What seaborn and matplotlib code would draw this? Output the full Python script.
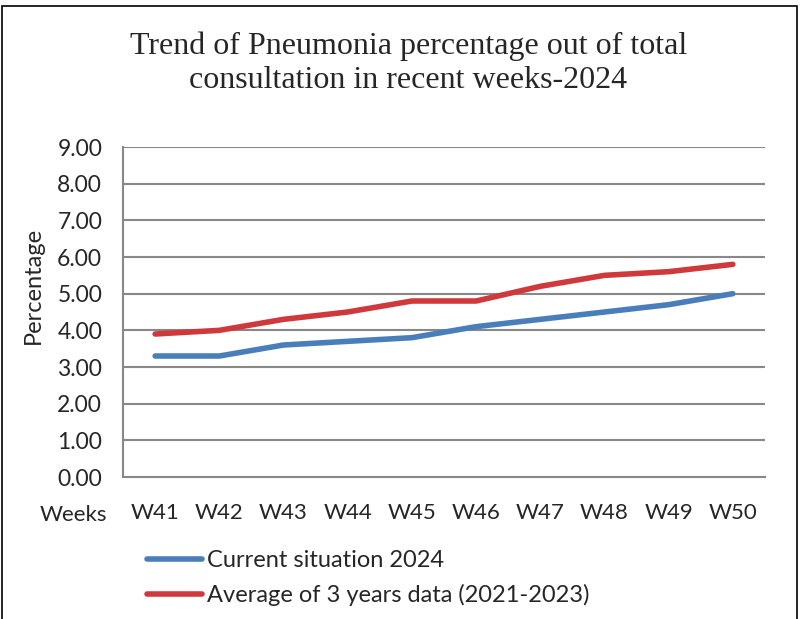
import pandas as pd
import matplotlib.pyplot as plt
import seaborn as sns
from matplotlib.patches import Rectangle

weeks = ['W41', 'W42', 'W43', 'W44', 'W45', 'W46', 'W47', 'W48', 'W49', 'W50']
current_2024 = [3.3, 3.3, 3.6, 3.7, 3.8, 4.1, 4.3, 4.5, 4.7, 5.0]
avg_2021_2023 = [3.9, 4.0, 4.3, 4.5, 4.8, 4.8, 5.2, 5.5, 5.6, 5.8]
series_names = ['Current situation 2024', 'Average of 3 years data (2021-2023)']
yticks = [0, 1, 2, 3, 4, 5, 6, 7, 8, 9]

df = pd.DataFrame({
    'week': weeks * 2,
    'pos': list(range(len(weeks))) * 2,
    'value': current_2024 + avg_2021_2023,
    'series': [series_names[0]] * len(weeks) + [series_names[1]] * len(weeks),
})

sns.set_style('white')
plt.rcParams['font.family'] = ['Lato', 'DejaVu Sans']

fig = plt.figure(figsize=(8.01, 6.19), dpi=100)
ax = fig.add_axes([0.1536, 0.2294, 0.8014, 0.5331])

ax = sns.lineplot(data=df, x='pos', y='value', hue='series',
                  palette=['#4A7EBB', '#D0393C'], linewidth=4.0,
                  solid_capstyle='round', ax=ax, legend=False)

grid_c = '#888888'
ax.set_xlim(-0.5, len(weeks) - 0.5)
ax.set_ylim(0, 9)
ax.set_yticks(yticks)
ax.set_yticklabels([f'{v:.2f}' for v in yticks], fontsize=16.5)
ax.set_xticks(range(len(weeks)))
ax.set_xticklabels(weeks, fontsize=16)
ax.set_xticks([i - 0.5 for i in range(len(weeks) + 1)], minor=True)
ax.tick_params(axis='x', which='major', length=0, pad=19)
ax.tick_params(axis='x', which='minor', length=6, width=1.3, color=grid_c, direction='out')
ax.tick_params(axis='y', length=5, width=1.3, color=grid_c, direction='out', pad=10)
for y in yticks[1:]:
    ax.axhline(y, color=grid_c, lw=1.5, zorder=0)
for s in ['top', 'right']:
    ax.spines[s].set_visible(False)
for s in ['left', 'bottom']:
    ax.spines[s].set_color(grid_c)
    ax.spines[s].set_linewidth(1.5)
ax.set_xlabel('')
ax.set_ylabel('Percentage', fontsize=17)
ax.yaxis.set_label_coords(-0.123, 0.58)

fig.text(0.05, 0.168, 'Weeks', fontsize=16, ha='left', va='center')

fig.text(0.51, 0.898, 'Trend of Pneumonia percentage out of total\nconsultation in recent weeks-2024',
         fontsize=23, ha='center', va='center', family='Liberation Serif', linespacing=1.25)

handles = [plt.Line2D([], [], color=c, lw=4.0, solid_capstyle='round')
           for c in ['#4A7EBB', '#D0393C']]
fig.legend(handles, series_names, loc='upper left', bbox_to_anchor=(0.172, 0.127),
           frameon=False, fontsize=17, handlelength=2.3, handletextpad=0.25,
           labelspacing=0.55, borderaxespad=0)

fig.add_artist(Rectangle((0.003, -0.01), 0.992, 1.0, transform=fig.transFigure,
                         fill=False, edgecolor='black', lw=1.2))

plt.savefig('out.png', dpi=100)
